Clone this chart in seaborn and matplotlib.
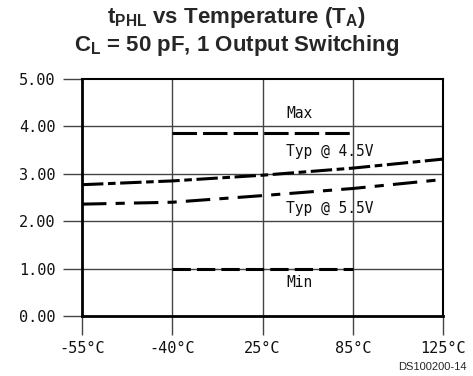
import matplotlib
matplotlib.use("Agg")
import matplotlib.pyplot as plt
import seaborn as sns
import pandas as pd

temps = ["-55°C", "-40°C", "25°C", "85°C", "125°C"]
typ45 = [2.77, 2.85, 2.97, 3.12, 3.31]
typ55 = [2.36, 2.40, 2.54, 2.69, 2.88]
max_temps = ["-40°C", "25°C", "85°C"]
max_vals = [3.86, 3.86, 3.86]
min_temps = ["-40°C", "25°C", "85°C"]
min_vals = [1.0, 1.0, 1.0]
yticks = [0.0, 1.0, 2.0, 3.0, 4.0, 5.0]

sns.set_theme(style="white")
plt.rcParams['font.family'] = ['DejaVu Sans Mono', 'DejaVu Sans']
plt.rcParams['mathtext.fontset'] = 'custom'
plt.rcParams['mathtext.rm'] = 'Liberation Sans'
plt.rcParams['mathtext.it'] = 'Liberation Sans:italic'
plt.rcParams['mathtext.bf'] = 'Liberation Sans:bold'

pos = {t: i for i, t in enumerate(temps)}
df = pd.concat([
    pd.DataFrame({"x": [pos[t] for t in temps], "y": typ45, "s": "typ45"}),
    pd.DataFrame({"x": [pos[t] for t in temps], "y": typ55, "s": "typ55"}),
    pd.DataFrame({"x": [pos[t] for t in max_temps], "y": max_vals, "s": "max"}),
    pd.DataFrame({"x": [pos[t] for t in min_temps], "y": min_vals, "s": "min"}),
])

fig = plt.figure(figsize=(4.73, 3.76), dpi=100)
ax = fig.add_axes([82/473, 1-316/376, (443-82)/473, (316-79)/376])

styles = {"typ45": (0, (7, 1.5, 2.5, 1.5)),
          "typ55": (0, (8, 3, 3, 3)),
          "max": (0, (8, 2)),
          "min": (0, (6, 2))}
for s, sub in df.groupby("s", sort=False):
    sns.lineplot(data=sub, x="x", y="y", ax=ax, color="black", lw=2.2,
                 linestyle=styles[s], sort=True)

ax.set_xlim(0, len(temps) - 1)
ax.set_ylim(0, 5)
ax.set_xticks(range(len(temps)))
ax.set_xticklabels(temps)
ax.set_yticks(yticks)
ax.set_yticklabels([f"{v:.2f}" for v in yticks])
ax.set_xlabel("")
ax.set_ylabel("")

for v in yticks[1:-1]:
    ax.axhline(v, color="#444444", lw=1.0, zorder=0)
for i in range(1, len(temps) - 1):
    ax.axvline(i, color="#444444", lw=1.0, zorder=0)

for sp in ax.spines.values():
    sp.set_color("black")
    sp.set_linewidth(1.5)
ax.spines["left"].set_linewidth(2)
ax.spines["bottom"].set_linewidth(2)

ax.tick_params(axis="both", which="major", length=14, width=1.0,
               color="#444444", labelsize=11, labelcolor="#111111")
ax.tick_params(axis="y", pad=5, left=True)
ax.tick_params(axis="x", pad=4, bottom=True)

tx = pos["25°C"] + 0.26
for yv, txt in [(4.28, "Max"), (3.48, "Typ @ 4.5V"), (2.27, "Typ @ 5.5V"), (0.70, "Min")]:
    ax.text(tx, yv, txt, fontsize=10.5, va="center", ha="left", color="#111111")

fig.text(0.5, 1-18/376, r"$\mathbf{t_{PHL}}$ vs Temperature (T$_\mathbf{A}$)",
         ha="center", va="center", fontsize=16, fontweight="bold",
         family="Liberation Sans")
fig.text(0.5, 1-45/376, r"C$_\mathbf{L}$ = 50 pF, 1 Output Switching",
         ha="center", va="center", fontsize=16, fontweight="bold",
         family="Liberation Sans")
fig.text(467/473, 1-367/376, "DS100200-14", ha="right", va="center",
         fontsize=8, family="Liberation Sans")

fig.savefig("out.png", dpi=100)
